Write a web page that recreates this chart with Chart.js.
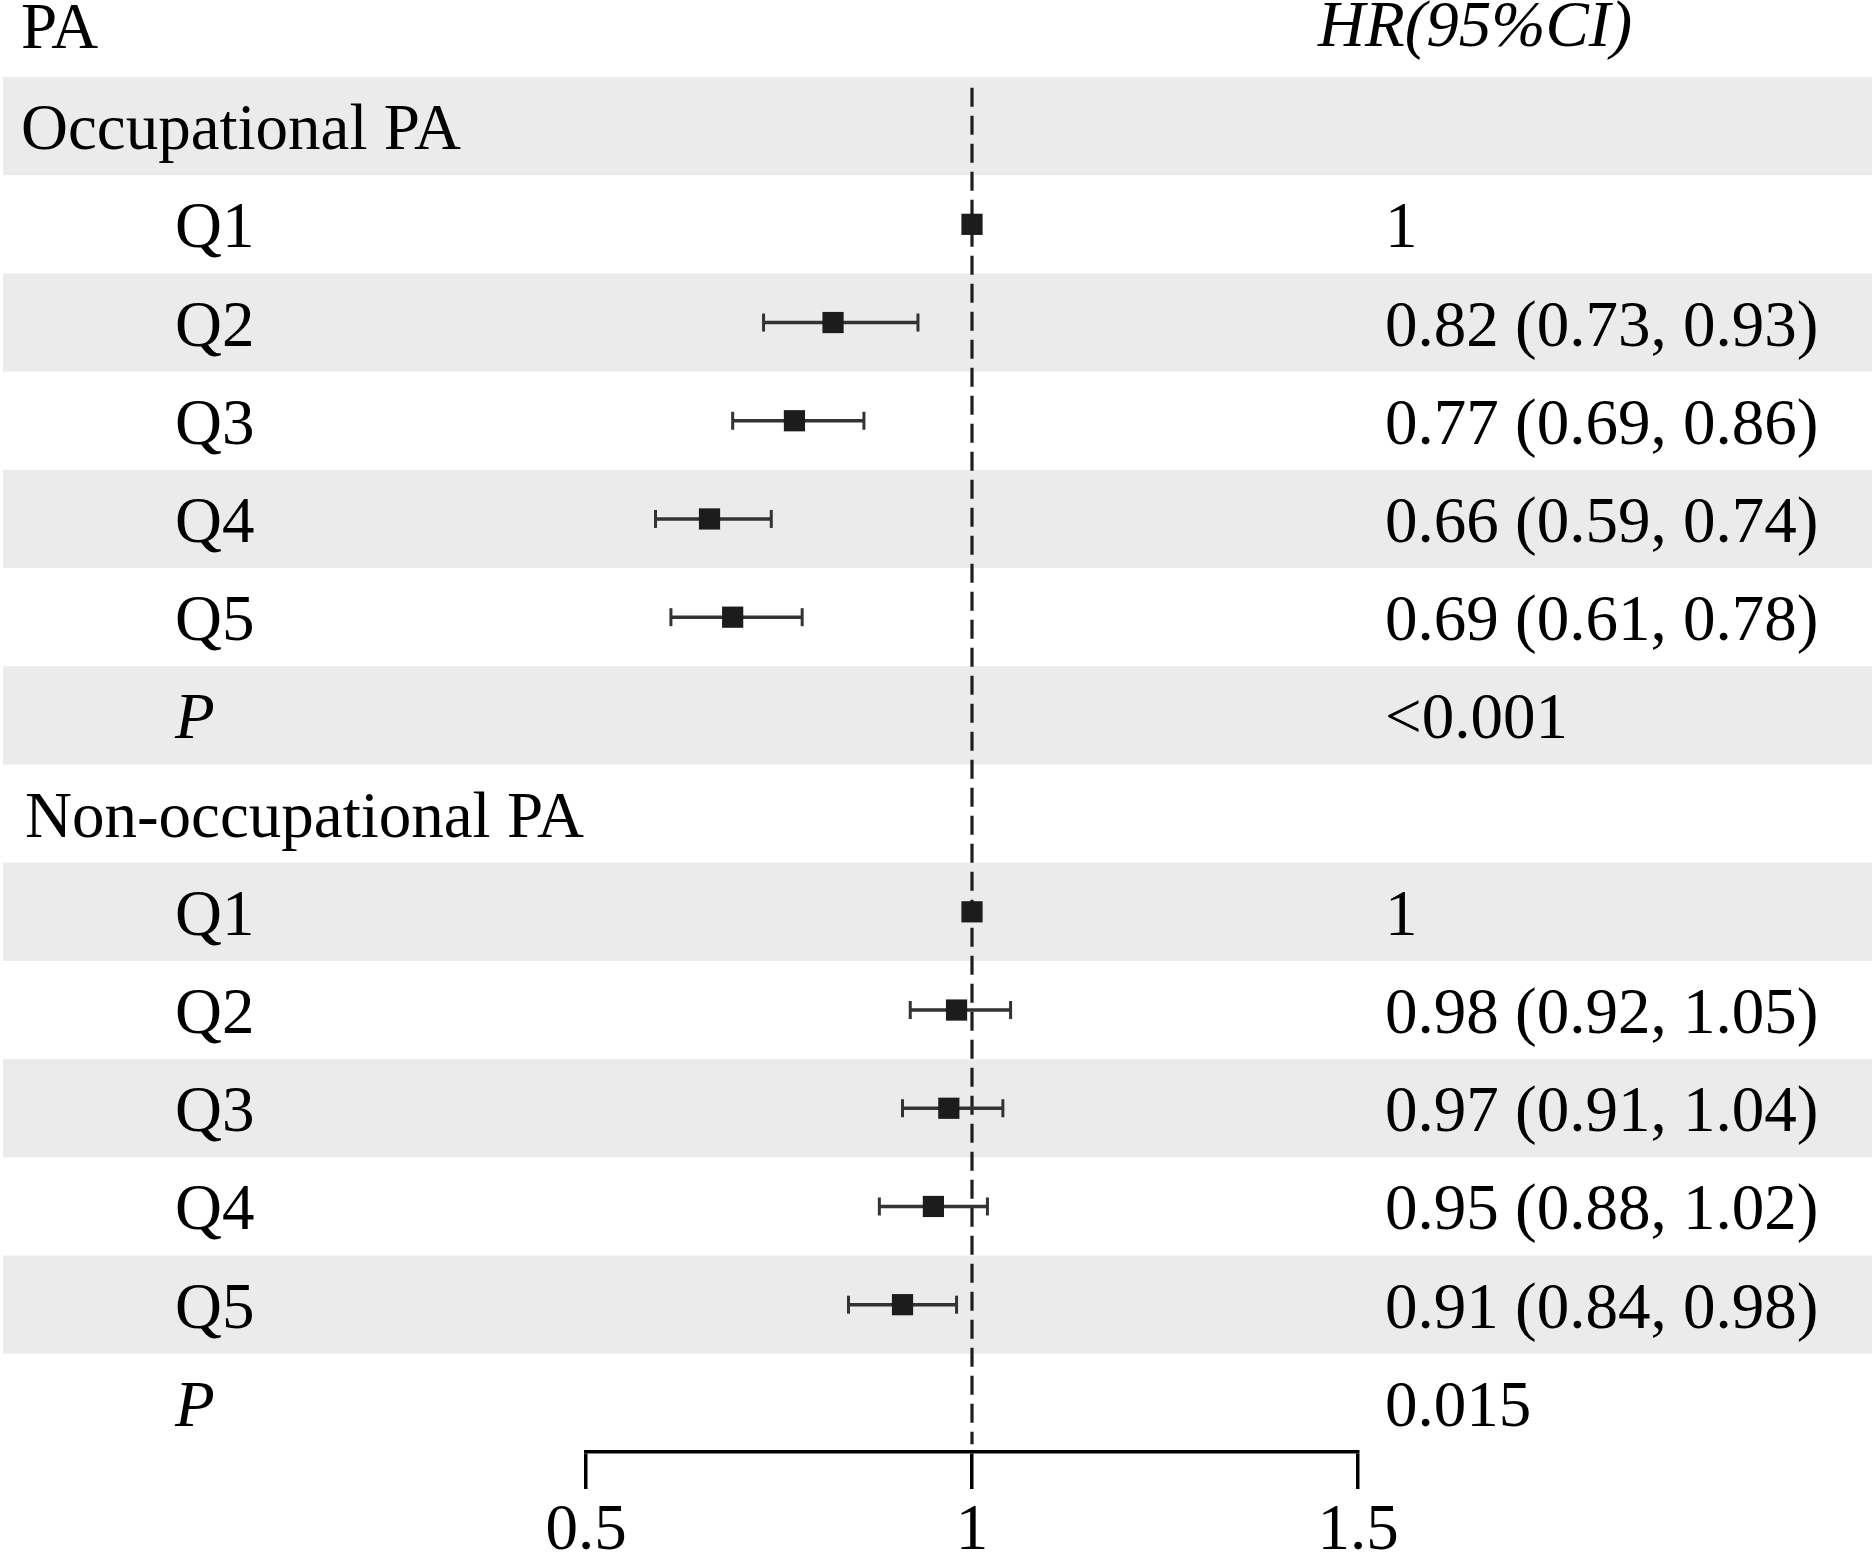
<!DOCTYPE html>
<html><head><meta charset="utf-8">
<script src="https://cdn.jsdelivr.net/npm/chart.js@4.4.1/dist/chart.umd.min.js"></script>
<style>html,body{margin:0;padding:0;background:#fff;}canvas{display:block;}</style>
</head><body>
<canvas id="c" width="1872" height="1554"></canvas>
<script>
// ---- data ----
const rowLabels = ["Occupational PA","Q1","Q2","Q3","Q4","Q5","P","Non-occupational PA","Q1","Q2","Q3","Q4","Q5","P"];
const rowKinds  = ["group","level","level","level","level","level","p","group","level","level","level","level","level","p"];
const hrValues  = [null,1,0.82,0.77,0.66,0.69,null,null,1,0.98,0.97,0.95,0.91,null];
const ciLow     = [null,null,0.73,0.69,0.59,0.61,null,null,null,0.92,0.91,0.88,0.84,null];
const ciHigh    = [null,null,0.93,0.86,0.74,0.78,null,null,null,1.05,1.04,1.02,0.98,null];
const hrText    = ["","1","0.82 (0.73, 0.93)","0.77 (0.69, 0.86)","0.66 (0.59, 0.74)","0.69 (0.61, 0.78)","<0.001",
                   "","1","0.98 (0.92, 1.05)","0.97 (0.91, 1.04)","0.95 (0.88, 1.02)","0.91 (0.84, 0.98)","0.015"];
const tickValues = [0.5, 1, 1.5];
const tickLabels = ["0.5", "1", "1.5"];
const refValue = 1;
const headerLeft = "PA";
const headerRight = "HR(95%CI)";

// ---- build datasets from data ----
const FONT = '"Liberation Serif", "Times New Roman", serif';
const FS = 65;
const markerData = [];
hrValues.forEach((v, i) => { if (v !== null) markerData.push({x: v, y: i + 0.5}); });

const datasets = [{
  label: 'HR', data: markerData, showLine: false,
  pointStyle: 'rect', pointRadius: 15, pointHoverRadius: 15,
  pointBackgroundColor: '#1c1c1c', pointBorderWidth: 0, order: 0
}];
ciLow.forEach((lo, i) => {
  if (lo === null) return;
  datasets.push({
    label: 'CI' + i,
    data: [{x: lo, y: i + 0.5}, {x: ciHigh[i], y: i + 0.5}],
    showLine: true, borderColor: '#333', borderWidth: 3.4,
    pointStyle: 'line', pointRotation: 90, pointRadius: 9, pointHoverRadius: 9,
    pointBorderColor: '#333', pointBorderWidth: 3, order: 1
  });
});
datasets.push({
  label: 'ref', data: [{x: refValue, y: 0.11}, {x: refValue, y: 13.92}],
  showLine: true, borderColor: '#1e1e1e', borderWidth: 3.2, borderDash: [19, 9],
  pointRadius: 0, pointHoverRadius: 0, order: 2
});

const tablePlugin = {
  id: 'table',
  beforeDraw(chart) {
    const ctx = chart.ctx, ys = chart.scales.y;
    ctx.save();
    ctx.fillStyle = '#fff';
    ctx.fillRect(0, 0, chart.width, chart.height);
    rowLabels.forEach((_, i) => {
      if (i % 2 === 0) {
        const t = ys.getPixelForValue(i), b = ys.getPixelForValue(i + 1);
        ctx.fillStyle = '#ebebeb';
        ctx.fillRect(3, t, chart.width - 3, b - t);
      }
    });
    ctx.fillStyle = '#000';
    ctx.textAlign = 'left';
    ctx.textBaseline = 'alphabetic';
    ctx.font = FS + 'px ' + FONT;
    ctx.fillText(headerLeft, 21, 48);
    ctx.font = 'italic ' + FS + 'px ' + FONT;
    ctx.fillText(headerRight, 1318, 46);
    rowLabels.forEach((lab, i) => {
      const by = ys.getPixelForValue(i + 0.5) + 23;
      const kind = rowKinds[i];
      ctx.font = (kind === 'p' ? 'italic ' : '') + FS + 'px ' + FONT;
      const lx = kind === 'group' ? (i === 0 ? 21 : 25) : 175;
      ctx.fillText(lab, lx, by);
      ctx.font = FS + 'px ' + FONT;
      ctx.fillText(hrText[i], 1385, by);
    });
    ctx.restore();
  }
};

new Chart(document.getElementById('c'), {
  type: 'scatter',
  data: {datasets},
  plugins: [tablePlugin],
  options: {
    responsive: false, animation: false, events: [],
    devicePixelRatio: 1,
    layout: {padding: {left: 586, right: 514, top: 77, bottom: 0}},
    plugins: {legend: {display: false}, tooltip: {enabled: false}, title: {display: false}},
    scales: {
      x: {
        type: 'linear', min: 0.5, max: 1.5,
        afterBuildTicks: s => { s.ticks = tickValues.map(v => ({value: v})); },
        afterFit: s => { s.height = 102; },
        grid: {display: true, drawOnChartArea: false, drawTicks: true, tickLength: 37, color: '#000', lineWidth: 3.5},
        border: {display: true, color: '#000', width: 3.5},
        ticks: {padding: 4, color: '#000', font: {family: FONT, size: FS}, autoSkip: false, maxRotation: 0,
                callback: (v, i) => tickLabels[i]}
      },
      y: {type: 'linear', min: 0, max: 14, reverse: true, display: false}
    }
  }
});
</script>
</body></html>
